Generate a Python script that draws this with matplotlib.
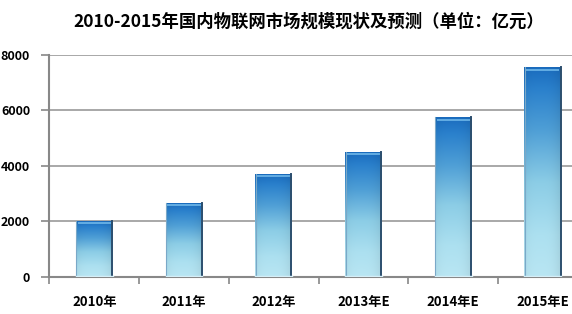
import matplotlib
matplotlib.use("Agg")
import matplotlib.pyplot as plt
import numpy as np
from matplotlib.colors import LinearSegmentedColormap

plt.rcParams['font.family'] = ['Noto Sans CJK SC', 'DejaVu Sans']

title = "2010-2015年国内物联网市场规模现状及预测（单位：亿元）"
categories = ["2010年", "2011年", "2012年", "2013年E", "2014年E", "2015年E"]
values = [2000, 2650, 3700, 4500, 5750, 7550]
yticks = [0, 2000, 4000, 6000, 8000]

fig = plt.figure(figsize=(5.72, 3.14), dpi=100)
ax = fig.add_axes([0.0865, 0.1194, 0.9135, 0.7054])

cmap = LinearSegmentedColormap.from_list(
    "barg", [(0.0, "#b9e6f3"), (0.2, "#ace0f0"), (0.45, "#8ccde6"),
             (0.7, "#4f9fd6"), (0.9, "#2a80cc"), (1.0, "#1a6cbe")])

x = np.arange(len(categories))
width = 0.41
bars = ax.bar(x, values, width=width, facecolor='none', edgecolor='none', zorder=3)
for rect, v in zip(bars, values):
    x0 = rect.get_x()
    x1 = x0 + rect.get_width()
    grad = np.linspace(0, 1, 256).reshape(-1, 1)
    hx = np.linspace(0, 1, 64).reshape(1, -1)
    shade = 1 - 0.06 * (np.abs(hx - 0.45) * 2) ** 3
    g = grad * np.ones_like(hx)
    rgba = cmap(g)
    rgba[..., :3] *= shade[..., None]
    im = ax.imshow(rgba, extent=(x0, x1, 0, v), origin='lower', aspect='auto', zorder=3)
    im.set_clip_path(rect)
    ax.plot([x0 + 0.02, x1 - 0.02], [v - 80, v - 80], color='#6fb8ea', lw=1.2, zorder=4, solid_capstyle='butt')
    ax.plot([x1 - 0.008, x1 - 0.008], [0, v], color='#2d4f6e', lw=1.4, zorder=4)
    ax.plot([x0 + 0.006, x0 + 0.006], [0, v], color='#7aa8c8', lw=0.8, zorder=4)
    ax.plot([x0, x1], [25, 25], color='#d5eef7', lw=1.0, zorder=4)

ax.set_xlim(-0.5, 5.325)
ax.set_ylim(0, 8000)
ax.set_yticks(yticks)
ax.set_yticklabels([str(t) for t in yticks], fontsize=9, fontweight='bold')
ax.yaxis.grid(True, color='#999999', lw=1.2, zorder=0)
ax.set_axisbelow(True)

ax.set_xticks(np.arange(-0.5, 5.5, 1.0))
ax.set_xticklabels([])
ax.set_xticks(x, minor=True)
ax.set_xticklabels(categories, minor=True, fontsize=9.5, fontweight='bold')
ax.tick_params(axis='x', which='minor', length=0, pad=13)
ax.tick_params(axis='x', which='major', length=5, color='#888888', width=1.2, direction='out')
ax.tick_params(axis='y', length=6, color='#888888', width=1.2, pad=8)

for s in ['top', 'right']:
    ax.spines[s].set_visible(False)
for s in ['left', 'bottom']:
    ax.spines[s].set_color('#888888')
    ax.spines[s].set_linewidth(1.5)

fig.text(0.54, 0.93, title, ha='center', va='center', fontsize=12.5, fontweight='heavy')

fig.savefig("out.png", dpi=100)
